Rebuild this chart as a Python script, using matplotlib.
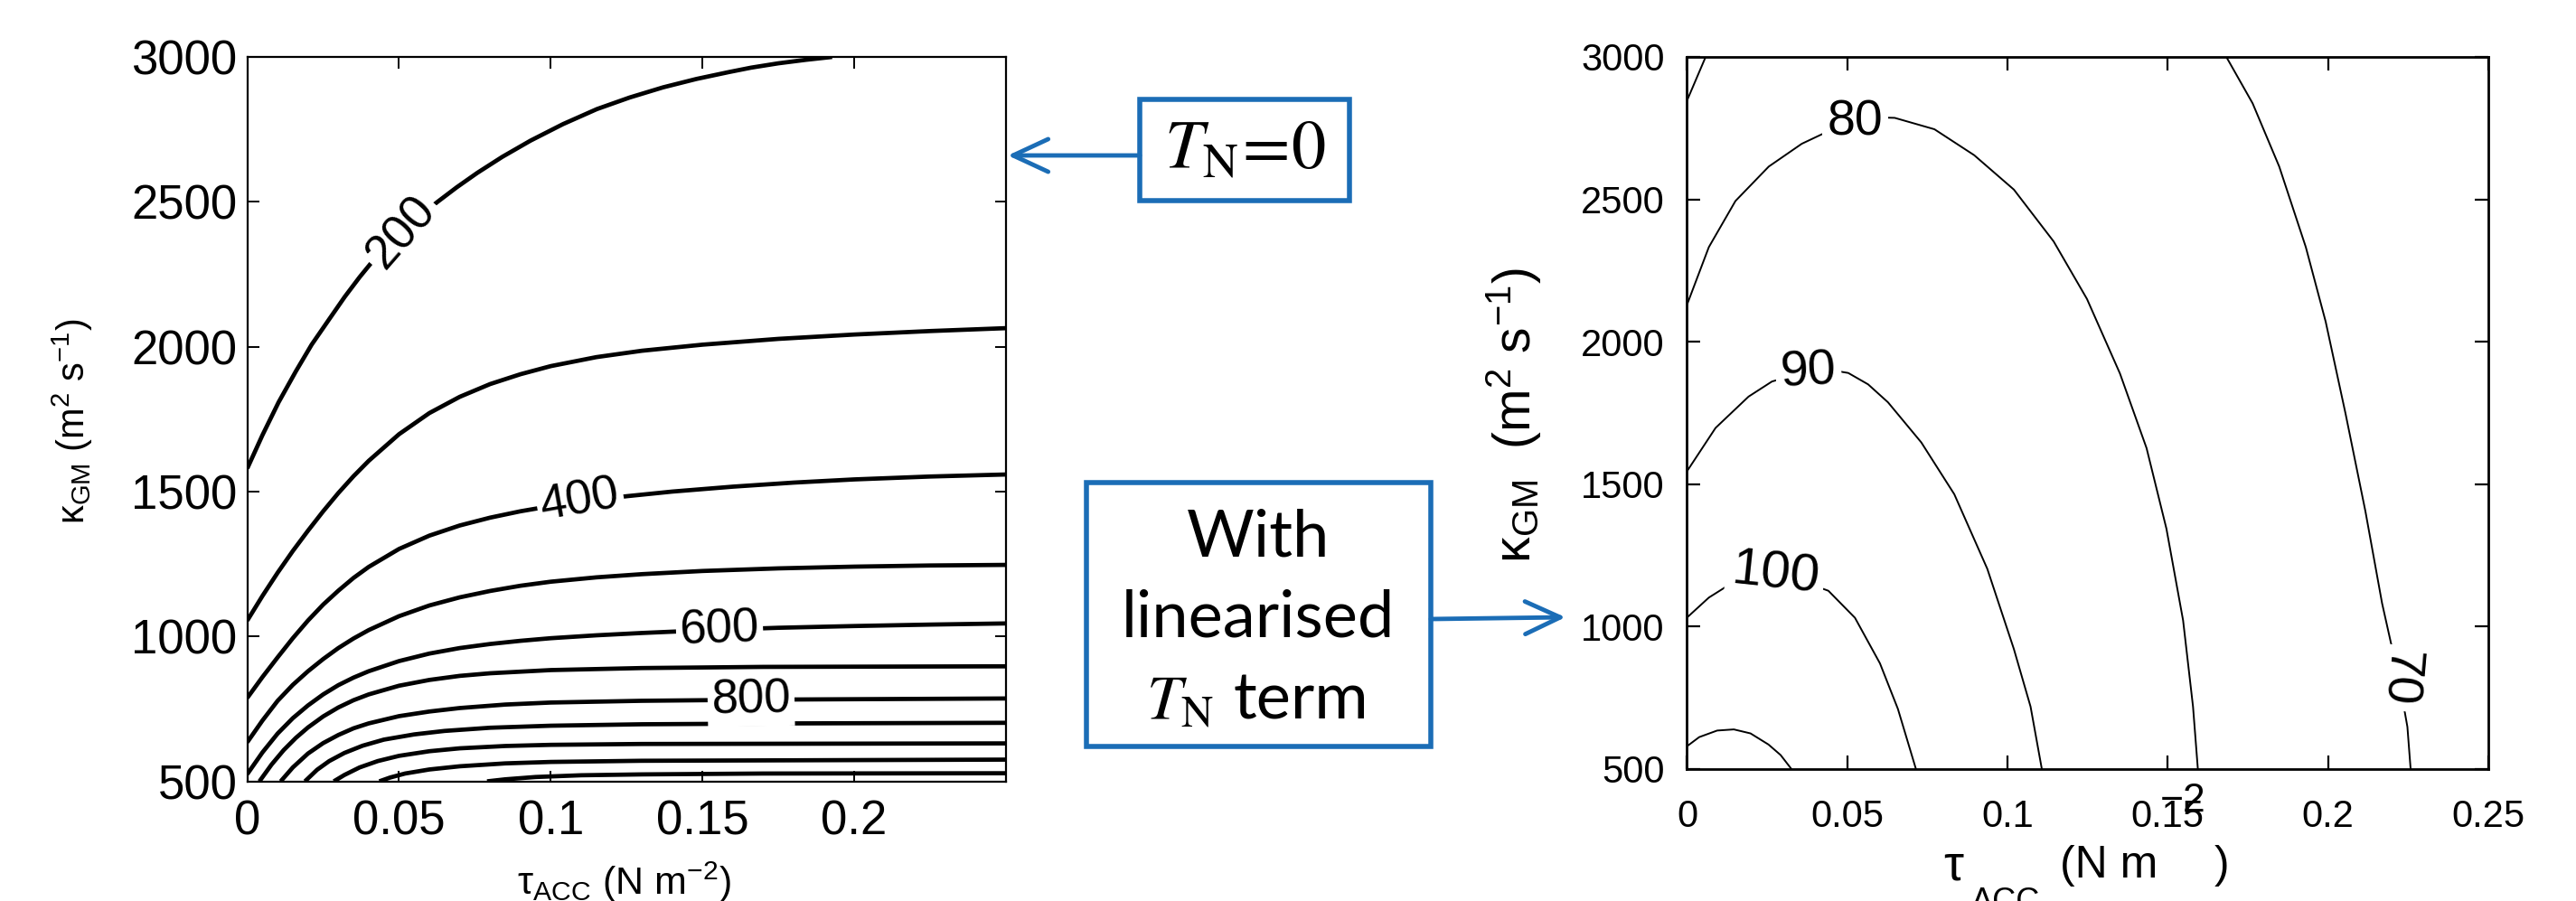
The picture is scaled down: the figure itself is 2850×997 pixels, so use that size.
import matplotlib
matplotlib.use('Agg')
import matplotlib.pyplot as plt
from matplotlib.patches import Rectangle, FancyArrowPatch

# ---------------------------------------------------------------------------
# Left panel (T_N = 0): contour lines, one array per level
# ---------------------------------------------------------------------------
tau_200 = [0, 0.005, 0.0103, 0.016, 0.0212, 0.027, 0.0321, 0.037, 0.0409, 0.0507, 0.057, 0.0627, 0.069, 0.0758, 0.084, 0.0933,
           0.104, 0.1152, 0.126, 0.137, 0.148, 0.1588, 0.166, 0.175, 0.184, 0.1927]
kgm_200 = [1580, 1695, 1808, 1915, 2007, 2095, 2172, 2240, 2290, 2395, 2452, 2500, 2550, 2600, 2655, 2711,
           2768, 2820, 2860, 2895, 2924, 2948, 2963, 2978, 2990, 3000]

tau_300 = [0, 0.005, 0.01, 0.015, 0.02, 0.025, 0.03, 0.035, 0.04, 0.05, 0.06, 0.07, 0.08, 0.09, 0.1, 0.115, 0.13, 0.15, 0.175, 0.2, 0.225, 0.25]
kgm_300 = [1055, 1140, 1220, 1295, 1365, 1432, 1495, 1553, 1606, 1698, 1771, 1827, 1871, 1905, 1933, 1964, 1986, 2007, 2027, 2042, 2054, 2064]

tau_400 = [0, 0.005, 0.01, 0.015, 0.02, 0.025, 0.03, 0.035, 0.04, 0.05, 0.06, 0.07, 0.08, 0.09, 0.1, 0.11, 0.125, 0.14, 0.16, 0.18, 0.2, 0.225, 0.25]
kgm_400 = [788, 860, 928, 994, 1055, 1110, 1158, 1202, 1240, 1302, 1348, 1383, 1410, 1432, 1450, 1465, 1484, 1500, 1517, 1531, 1542, 1552, 1559]

tau_500 = [0, 0.005, 0.01, 0.015, 0.02, 0.025, 0.03, 0.035, 0.04, 0.05, 0.06, 0.07, 0.08, 0.09, 0.1, 0.115, 0.13, 0.15, 0.175, 0.2, 0.225, 0.25]
kgm_500 = [635, 710, 778, 833, 880, 922, 960, 993, 1022, 1070, 1107, 1135, 1157, 1175, 1189, 1204, 1215, 1226, 1235, 1241, 1245, 1247]

tau_600 = [0, 0.005, 0.01, 0.015, 0.02, 0.025, 0.03, 0.035, 0.04, 0.05, 0.06, 0.07, 0.08, 0.09, 0.1, 0.115, 0.13, 0.15, 0.175, 0.2, 0.225, 0.25]
kgm_600 = [525, 600, 665, 718, 762, 800, 832, 858, 880, 915, 941, 960, 974, 985, 994, 1004, 1012, 1021, 1030, 1036, 1041, 1045]

tau_700 = [0.004, 0.008, 0.012, 0.016, 0.02, 0.025, 0.03, 0.035, 0.04, 0.05, 0.06, 0.07, 0.08, 0.1, 0.13, 0.17, 0.25]
kgm_700 = [500, 558, 608, 650, 686, 724, 755, 780, 800, 830, 850, 864, 873, 884, 891, 895, 897]

tau_800 = [0.011, 0.015, 0.02, 0.025, 0.03, 0.035, 0.04, 0.05, 0.06, 0.07, 0.085, 0.1, 0.13, 0.17, 0.25]
kgm_800 = [500, 548, 596, 632, 660, 683, 700, 725, 741, 753, 765, 772, 778, 782, 786]

tau_900 = [0.019, 0.023, 0.027, 0.032, 0.038, 0.045, 0.055, 0.065, 0.08, 0.1, 0.13, 0.18, 0.25]
kgm_900 = [500, 540, 570, 598, 623, 644, 662, 674, 685, 692, 697, 700, 702]

tau_1000 = [0.0285, 0.032, 0.037, 0.043, 0.05, 0.06, 0.07, 0.085, 0.1, 0.13, 0.25]
kgm_1000 = [500, 522, 548, 570, 588, 604, 614, 622, 626, 629, 631]

tau_1100 = [0.0435, 0.047, 0.052, 0.06, 0.07, 0.085, 0.1, 0.13, 0.25]
kgm_1100 = [500, 513, 527, 541, 552, 562, 567, 571, 575]

tau_1200 = [0.079, 0.085, 0.095, 0.11, 0.13, 0.17, 0.25]
kgm_1200 = [500, 507, 515, 521, 524, 527, 528]

left_labels = ['200', '400', '600', '800']
left_label_tau = [0.0507, 0.1097, 0.1556, 0.166]
left_label_kgm = [2395, 1467, 1024, 781]
left_label_rot = [49, 10, 2, 1]

# ---------------------------------------------------------------------------
# Right panel (linearised T_N term)
# ---------------------------------------------------------------------------
tau_110 = [0, 0.0038, 0.0094, 0.0146, 0.0198, 0.0254, 0.0292, 0.0325]
kgm_110 = [579, 611, 634, 638, 624, 585, 548, 500]

tau_100 = [0, 0.0068, 0.013, 0.02, 0.0275, 0.035, 0.0441, 0.0524, 0.0602, 0.0658, 0.0714]
kgm_100 = [1031, 1101, 1145, 1168, 1174, 1162, 1125, 1030, 870, 710, 500]

tau_90 = [0, 0.0089, 0.0192, 0.0265, 0.038, 0.045, 0.0503, 0.0565, 0.0627, 0.0731, 0.0834, 0.0937, 0.102, 0.1072, 0.1107]
kgm_90 = [1545, 1697, 1807, 1860, 1897, 1900, 1890, 1850, 1787, 1646, 1464, 1202, 920, 718, 500]

tau_80 = [0, 0.0068, 0.0151, 0.0255, 0.0358, 0.042, 0.05, 0.058, 0.0648, 0.0772, 0.0896, 0.102, 0.1144, 0.1248, 0.1351, 0.1434, 0.1496, 0.1548, 0.1579, 0.1594]
kgm_80 = [2130, 2332, 2494, 2615, 2695, 2728, 2765, 2788, 2786, 2746, 2655, 2534, 2352, 2150, 1888, 1626, 1343, 1021, 718, 500]

tau_70 = [0.1683, 0.1765, 0.1848, 0.1931, 0.1993, 0.2055, 0.2117, 0.2169, 0.2221, 0.2248, 0.2258]
kgm_70 = [3000, 2837, 2615, 2332, 2070, 1747, 1404, 1081, 819, 647, 500]

tau_70b = [0, 0.0058]
kgm_70b = [2847, 3000]

right_labels = ['80', '90', '100', '70']
right_label_tau = [0.0524, 0.0379, 0.0275, 0.2221]
right_label_kgm = [2770, 1894, 1182, 819]
right_label_rot = [0, 3, -6, -95]
right_label_size = [40, 40, 42, 40]

x_ticks = [0, 0.05, 0.1, 0.15, 0.2]
x_ticks_right = [0, 0.05, 0.1, 0.15, 0.2, 0.25]
y_ticks = [500, 1000, 1500, 2000, 2500, 3000]

W, H = 2850, 997
BLUE = '#1b6db6'

plt.rcParams['mathtext.fontset'] = 'custom'
plt.rcParams['mathtext.rm'] = 'Liberation Sans'
plt.rcParams['mathtext.it'] = 'Liberation Sans:italic'
plt.rcParams['mathtext.sf'] = 'Liberation Sans'
plt.rcParams['font.family'] = ['Liberation Sans', 'DejaVu Sans']


def fx(px):
    return px / W


def fy(py):
    return 1 - py / H


fig = plt.figure(figsize=(W / 100, H / 100), dpi=100)

# ----- left axes -----
ax1 = fig.add_axes([fx(273.6), fy(864.6), (1113 - 273.6) / W, (864.6 - 63) / H])
left_curves = [(tau_200, kgm_200), (tau_300, kgm_300), (tau_400, kgm_400),
               (tau_500, kgm_500), (tau_600, kgm_600), (tau_700, kgm_700),
               (tau_800, kgm_800), (tau_900, kgm_900), (tau_1000, kgm_1000),
               (tau_1100, kgm_1100), (tau_1200, kgm_1200)]
for t, k in left_curves:
    ax1.plot(t, k, color='black', lw=3.4, solid_capstyle='butt',
             solid_joinstyle='round', zorder=2)
for s, t, k, r in zip(left_labels, left_label_tau, left_label_kgm, left_label_rot):
    ax1.text(t, k, s, fontsize=38, rotation=r, rotation_mode='anchor',
             ha='center', va='center', zorder=3,
             bbox=dict(facecolor='white', edgecolor='none', pad=3))
ax1.set_xlim(0, 0.25)
ax1.set_ylim(500, 3000)
ax1.set_xticks(x_ticks)
ax1.set_xticklabels(['0', '0.05', '0.1', '0.15', '0.2'])
ax1.set_yticks(y_ticks)
ax1.tick_params(direction='in', length=9, width=1.4, top=True, right=True,
                labelsize=38)
ax1.tick_params(axis='x', pad=14)
ax1.tick_params(axis='y', pad=8)
for sp in ax1.spines.values():
    sp.set_linewidth(1.6)

fig.text(fx(80), fy(466), 'κ$_{\\rm GM}$ (m$^2$ s$^{-1}$)', rotation=90,
         ha='center', va='center', fontsize=30)
fig.text(fx(690), fy(990), 'τ$_{\\rm ACC}$ (N m$^{-2}$)', ha='center',
         va='baseline', fontsize=31)

# ----- right axes -----
ax2 = fig.add_axes([fx(1866.5), fy(850.6), (2752.8 - 1866.5) / W, (850.6 - 63) / H])
right_curves = [(tau_110, kgm_110), (tau_100, kgm_100), (tau_90, kgm_90),
                (tau_80, kgm_80), (tau_70, kgm_70), (tau_70b, kgm_70b)]
for t, k in right_curves:
    ax2.plot(t, k, color='black', lw=1.4, solid_joinstyle='round', zorder=2)
for s, t, k, r, fs in zip(right_labels, right_label_tau, right_label_kgm,
                          right_label_rot, right_label_size):
    ax2.text(t, k, s, fontsize=fs, rotation=r,
             rotation_mode='anchor', ha='center', va='center', zorder=3,
             bbox=dict(facecolor='white', edgecolor='none', pad=4))
ax2.set_xlim(0, 0.25)
ax2.set_ylim(500, 3000)
ax2.set_xticks(x_ticks_right)
ax2.set_xticklabels(['0', '0.05', '0.1', '0.15', '0.2', '0.25'])
ax2.set_yticks(y_ticks)
ax2.tick_params(direction='in', length=11, width=1.6, top=True, right=True,
                labelsize=30)
ax2.tick_params(axis='x', pad=24)
ax2.tick_params(axis='y', pad=18)
for sp in ax2.spines.values():
    sp.set_linewidth(2.0)

fig.text(fx(1675), fy(460), 'κ$_{\\rm GM}$  (m$^2$ s$^{-1}$)', rotation=90,
         ha='center', va='center', fontsize=41)
# x label of the right panel, set piece by piece like the original
fig.text(fx(2150), fy(973), 'τ', ha='left', va='baseline', fontsize=40)
fig.text(fx(2181), fy(981), 'ACC', ha='left', va='top', fontsize=26)
fig.text(fx(2279), fy(971), '(N m', ha='left', va='baseline', fontsize=36)
fig.text(fx(2390), fy(898), '\u22122', ha='left', va='baseline', fontsize=32)
fig.text(fx(2450), fy(971), ')', ha='left', va='baseline', fontsize=36)

# ----- annotation boxes and arrows -----
fig.add_artist(Rectangle((fx(1261), fy(222)), (1493 - 1261) / W, (222 - 110) / H,
                         transform=fig.transFigure, fill=False, ec=BLUE, lw=4))
fig.text(fx(1377), fy(166), r'$T_{\rm N}\!=\!0$', math_fontfamily='stix',
         fontsize=55, ha='center', va='center')
fig.add_artist(FancyArrowPatch((fx(1261), fy(172)), (fx(1115), fy(172)),
                               transform=fig.transFigure, color=BLUE, lw=3.5,
                               arrowstyle='->,head_length=28,head_width=13',
                               mutation_scale=1, shrinkA=0, shrinkB=0))

fig.add_artist(Rectangle((fx(1202), fy(826)), (1583 - 1202) / W, (826 - 534) / H,
                         transform=fig.transFigure, fill=False, ec=BLUE, lw=4))
fig.text(fx(1392), fy(615), 'With', family='Lato', fontsize=52,
         ha='center', va='baseline')
fig.text(fx(1392), fy(704), 'linearised', family='Lato', fontsize=52,
         ha='center', va='baseline')
fig.text(fx(1268), fy(795), r'$T_{\rm N}$', math_fontfamily='stix',
         fontsize=50, ha='left', va='baseline')
fig.text(fx(1364), fy(795), 'term', family='Lato', fontsize=52,
         ha='left', va='baseline')
fig.add_artist(FancyArrowPatch((fx(1583), fy(685)), (fx(1732), fy(683)),
                               transform=fig.transFigure, color=BLUE, lw=3.5,
                               arrowstyle='->,head_length=28,head_width=13',
                               mutation_scale=1, shrinkA=0, shrinkB=0))

fig.savefig('out.png', dpi=100)
